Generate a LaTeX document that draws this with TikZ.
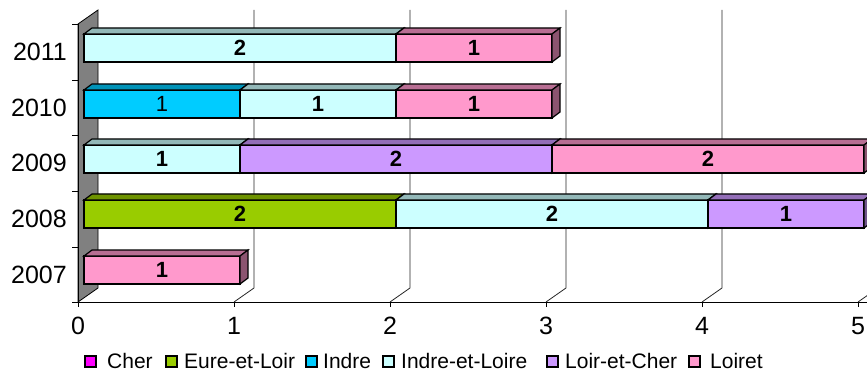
\documentclass[tikz,border=0pt]{standalone}
\usepackage{fontspec}
\setmainfont{Liberation Sans}
\definecolor{cCher}{HTML}{FF00FF}
\definecolor{cEure}{HTML}{99CC00}
\definecolor{cIndre}{HTML}{00CCFF}
\definecolor{cIEL}{HTML}{CCFFFF}
\definecolor{cLEC}{HTML}{CC99FF}
\definecolor{cLoiret}{HTML}{FF99CC}
\definecolor{wallgray}{HTML}{808080}
\tikzset{
  segline/.style={draw=black, line width=1.2pt, line join=miter},
  vlabel/.style={font=\fontsize{22}{22}\selectfont\bfseries, inner sep=0pt},
  yearlabel/.style={font=\fontsize{25}{25}\selectfont, anchor=east, inner sep=0pt},
  axlabel/.style={font=\fontsize{25}{25}\selectfont, anchor=north, inner sep=0pt},
  legtext/.style={font=\fontsize{21}{21}\selectfont, anchor=base west, inner sep=0pt},
  legbox/.style={draw=black, line width=1.1pt, minimum width=11pt, minimum height=11pt, inner sep=0pt, anchor=center},
  gridline/.style={draw=black!85, line width=0.8pt},
}
\newcommand{\barseg}[6]{%
  \filldraw[fill=#5, segline] (#2,#4) rectangle (#3,#4+28);
  \filldraw[fill=#5!72!black, segline] (#2,#4) -- (#2+8,#4-6) -- (#3+8,#4-6) -- (#3,#4) -- cycle;
  \filldraw[fill=#5!55!black, segline] (#3,#4) -- (#3+8,#4-6) -- (#3+8,#4+22) -- (#3,#4+28) -- cycle;
  \node[vlabel] (#1) at ({(#2+#3)/2},#4+14) {#6};
}
\begin{document}
\begin{tikzpicture}[x=1pt,y=-1pt]
\useasboundingbox (0,0) rectangle (867,374);
\begin{scope}
\clip (0,0) rectangle (867,374);
% back wall grid lines and floor diagonals
\foreach \k in {1,...,5} {
  \coordinate (gb\k) at (98+156*\k,10);
  \coordinate (gf\k) at (98+156*\k,288);
  \coordinate (ft\k) at (78+156*\k,302);
  \draw[gridline] (gb\k) -- (gf\k) -- (ft\k);
}
% left wall
\coordinate (w1) at (78,24);
\coordinate (w2) at (98,10);
\coordinate (w3) at (98,288);
\coordinate (w4) at (78,302);
\filldraw[fill=wallgray, draw=black, line width=0.8pt] (w1) -- (w2) -- (w3) -- (w4) -- cycle;
% axes
\coordinate (xend) at (867,302);
\draw[black, line width=0.9pt] (w1) -- (w4) -- (xend);
\foreach \y in {24,80,135,191,247,302} \draw[black, line width=0.9pt] (72,\y) -- (78,\y);
\foreach \k in {0,...,5} \draw[black, line width=0.9pt] (78+156*\k,302) -- (78+156*\k,307);
% bars
% 2011
\barseg{a1}{84}{396}{34}{cIEL}{2}
\barseg{a2}{396}{552}{34}{cLoiret}{1}
% 2010
\barseg{b1}{84}{240}{90}{cIndre}{\mdseries 1}
\barseg{b2}{240}{396}{90}{cIEL}{1}
\barseg{b3}{396}{552}{90}{cLoiret}{1}
% 2009
\barseg{c1}{84}{240}{145}{cIEL}{1}
\barseg{c2}{240}{552}{145}{cLEC}{2}
\barseg{c3}{552}{864}{145}{cLoiret}{2}
% 2008
\barseg{d1}{84}{396}{200}{cEure}{2}
\barseg{d2}{396}{708}{200}{cIEL}{2}
\barseg{d3}{708}{864}{200}{cLEC}{1}
% 2007
\barseg{e1}{84}{240}{256}{cLoiret}{1}
\end{scope}
% year labels
\node[yearlabel] (y2011) at (67,52) {2011};
\node[yearlabel] (y2010) at (67,107.5) {2010};
\node[yearlabel] (y2009) at (67,163) {2009};
\node[yearlabel] (y2008) at (67,219) {2008};
\node[yearlabel] (y2007) at (67,274.5) {2007};
% x axis labels
\foreach \k in {0,...,5} \node[axlabel] (x\k) at (78+156*\k,317) {\k};
% legend
\node[legbox, fill=cCher] (l1) at (90.5,361.5) {};
\node[legtext] (t1) at (107,368) {Cher};
\node[legbox, fill=cEure] (l2) at (171.5,361.5) {};
\node[legtext] (t2) at (184,368) {Eure-et-Loir};
\node[legbox, fill=cIndre] (l3) at (311.5,361.5) {};
\node[legtext] (t3) at (323,368) {Indre};
\node[legbox, fill=cIEL] (l4) at (388.5,361.5) {};
\node[legtext] (t4) at (401,368) {Indre-et-Loire};
\node[legbox, fill=cLEC] (l5) at (552.5,361.5) {};
\node[legtext] (t5) at (565,368) {Loir-et-Cher};
\node[legbox, fill=cLoiret] (l6) at (694.5,361.5) {};
\node[legtext] (t6) at (710,368) {Loiret};
\end{tikzpicture}
\end{document}
